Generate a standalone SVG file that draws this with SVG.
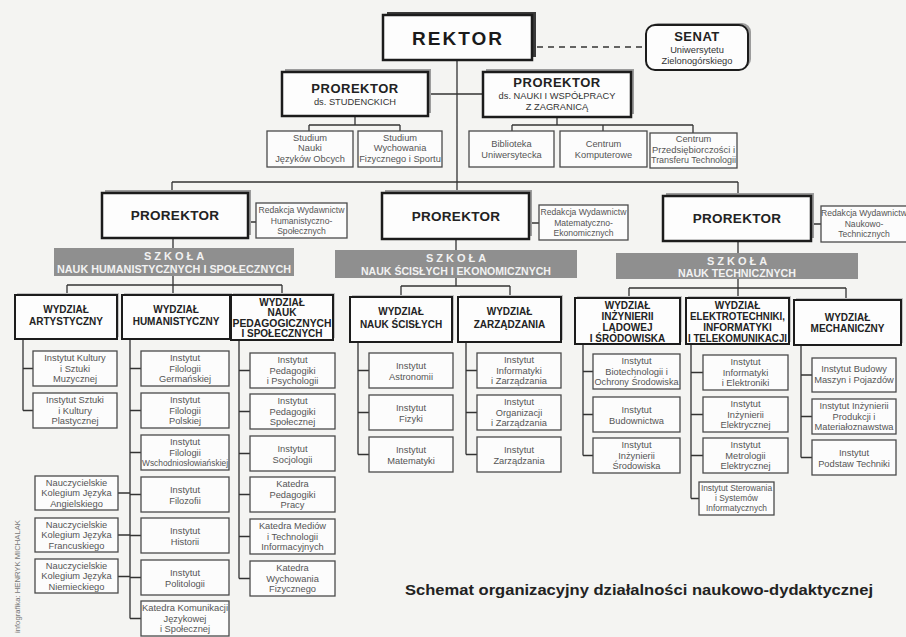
<svg xmlns="http://www.w3.org/2000/svg" width="906" height="637" viewBox="0 0 906 637">
<style>
text{font-family:"Liberation Sans",Arial,sans-serif;text-anchor:middle}
.mb{fill:#fdfdfd;stroke:#1c1c1c;stroke-width:2.5}
.wb{fill:#fdfdfd;stroke:#1c1c1c;stroke-width:2}
.sb{fill:#fcfcfc;stroke:#4a4a4a;stroke-width:1.3}
.sh{fill:#9c9c9c}
.shl{fill:#c2c2c2}
.band{fill:#8f8f8f}
.ln{fill:none;stroke:#333;stroke-width:1.3}
.dash{fill:none;stroke:#333;stroke-width:1.3;stroke-dasharray:6 5}
.big{font-size:19px;font-weight:bold;letter-spacing:2px;fill:#1a1a1a}
.pr{font-size:13px;font-weight:bold;letter-spacing:.5px;fill:#222}
.pr2{font-size:13.5px;font-weight:bold;letter-spacing:.3px;fill:#222}
.sub{font-size:9.3px;fill:#333}
.wy{font-size:10px;font-weight:bold;fill:#222}
.ts{font-size:9.3px;fill:#555}
.tr{font-size:8.6px;fill:#555}
.tq{font-size:8.4px;fill:#555}
.bd1{font-size:11px;font-weight:bold;letter-spacing:3px;fill:#f2f2f2}
.bd2{font-size:10.5px;font-weight:bold;fill:#f2f2f2}
.ft{font-size:15px;font-weight:bold;fill:#222;text-anchor:start}
.cr{font-size:7.5px;fill:#777;text-anchor:start}
</style>
<rect x="0" y="0" width="906" height="637" fill="#f4f4f2"/>

<g id="connectors">
<path class="dash" d="M537 47 H646"/>
<path class="ln" d="M457 60 V182 M428 94 H483 M355 116 V125 M309 125 H400 M309 125 V131 M400 125 V131 M557 117 V125 M512 125 H693 M512 125 V131 M603 125 V131 M693 125 V133"/>
<path class="ln" d="M172 182 H738 M172 182 V193 M457 182 V193 M738 182 V196 M248 222 H256 M529 223 H539 M811 224 H821 M173 238 V248 M456 239 V250 M738 241 V253"/>
<path class="ln" d="M173 276 V285 M67 285 H282 M67 285 V295 M173 285 V295 M282 285 V295 M456 278 V286 M401 286 H510 M401 286 V297 M510 286 V297 M738 279 V288 M629 288 H846 M629 288 V298 M738 288 V298 M846 288 V300"/>
<path class="ln" d="M23 339 V410.5 M23 368.5 H33 M23 410.5 H33"/>
<path class="ln" d="M130 339 V618.5 M130 368.5 H141 M130 410.5 H141 M130 452.5 H141 M130 494.5 H141 M130 535.5 H141 M130 577.5 H141 M130 618.5 H141 M118 493 H130 M118 535 H130 M118 576.5 H130"/>
<path class="ln" d="M239 340 V578.5 M239 370.5 H250 M239 411.5 H250 M239 453.5 H250 M239 494.5 H250 M239 536.5 H250 M239 578.5 H250"/>
<path class="ln" d="M358 342 V454.5 M358 370.5 H369 M358 412.5 H369 M358 454.5 H369 M466 342 V454.5 M466 370.5 H477 M466 412.5 H477 M466 454.5 H477"/>
<path class="ln" d="M583 343 V455.5 M583 371.5 H593 M583 414.5 H593 M583 455.5 H593 M691 343 V498.5 M691 372.5 H703 M691 414.5 H703 M691 455.5 H703 M691 498.5 H699 M801 345 V457.5 M801 375 H812 M801 416.5 H812 M801 457.5 H812"/>
</g>

<g id="rektor">
<rect x="387" y="12" width="149" height="45" fill="#3a3a3a"/>
<rect class="mb" x="383" y="15" width="149" height="45"/>
<text class="big" x="458" y="45">REKTOR</text>
</g>
<g id="senat">
<rect class="sh" x="649" y="23" width="102" height="45" rx="9"/>
<rect class="wb" x="646" y="25" width="102" height="45" rx="9"/>
<text class="pr" x="697" y="41">SENAT</text>
<text class="sub" x="697" y="53">Uniwersytetu</text>
<text class="sub" x="697" y="64">Zielonogórskiego</text>
</g>
<g id="prorektor-studenckich">
<rect class="sh" x="285" y="69" width="146" height="44"/>
<rect class="mb" x="282" y="72" width="146" height="44"/>
<text class="pr" x="355" y="93">PROREKTOR</text>
<text class="sub" x="355" y="105">ds. STUDENCKICH</text>
</g>
<g id="prorektor-nauki">
<rect class="sh" x="486" y="69" width="148" height="45"/>
<rect class="mb" x="483" y="72" width="148" height="45"/>
<text class="pr" x="557" y="87">PROREKTOR</text>
<text class="sub" x="557" y="99">ds. NAUKI I WSPÓŁPRACY</text>
<text class="sub" x="557" y="110">Z ZAGRANICĄ</text>
</g>
<g id="studium-jezykow"><rect class="sb" x="267" y="131" width="86" height="36"/>
<text class="ts" x="310" y="140.5">Studium</text><text class="ts" x="310" y="151">Nauki</text><text class="ts" x="310" y="161.5">Języków Obcych</text></g>
<g id="studium-wf"><rect class="sb" x="358" y="131" width="84" height="36"/>
<text class="ts" x="400" y="140.5">Studium</text><text class="ts" x="400" y="151">Wychowania</text><text class="ts" x="400" y="161.5">Fizycznego i Sportu</text></g>
<g id="biblioteka"><rect class="sb" x="469" y="131" width="85" height="36"/>
<text class="ts" x="511.5" y="146.5">Biblioteka</text><text class="ts" x="511.5" y="157.5">Uniwersytecka</text></g>
<g id="centrum-komputerowe"><rect class="sb" x="560" y="131" width="87" height="36"/>
<text class="ts" x="603.5" y="146.5">Centrum</text><text class="ts" x="603.5" y="157.5">Komputerowe</text></g>
<g id="centrum-przedsiebiorczosci"><rect class="sb" x="650" y="133" width="87" height="35"/>
<text class="ts" x="693.5" y="142">Centrum</text><text class="ts" x="693.5" y="152.5" textLength="83" lengthAdjust="spacingAndGlyphs">Przedsiębiorczości i</text><text class="ts" x="693.5" y="163" textLength="85" lengthAdjust="spacingAndGlyphs">Transferu Technologii</text></g>

<g id="prorektor-1">
<rect class="sh" x="105" y="190" width="146" height="45"/>
<rect class="mb" x="102" y="193" width="146" height="45"/>
<text class="pr2" x="175" y="220">PROREKTOR</text>
</g>
<g id="redakcja-1"><rect class="sb" x="256" y="203" width="91" height="35"/>
<text class="tr" x="301.5" y="213">Redakcja Wydawnictw</text><text class="tr" x="301.5" y="223.5">Humanistyczno-</text><text class="tr" x="301.5" y="234">Społecznych</text></g>
<g id="szkola-1"><rect class="band" x="54" y="248" width="240" height="28"/>
<text class="bd1" x="175.5" y="260">SZKOŁA</text><text class="bd2" x="174" y="272.5" textLength="234" lengthAdjust="spacingAndGlyphs">NAUK HUMANISTYCZNYCH I SPOŁECZNYCH</text></g>

<g id="prorektor-2">
<rect class="sh" x="385" y="190" width="147" height="46"/>
<rect class="mb" x="382" y="193" width="147" height="46"/>
<text class="pr2" x="456" y="221">PROREKTOR</text>
</g>
<g id="redakcja-2"><rect class="sb" x="539" y="205" width="89" height="35"/>
<text class="tr" x="583.5" y="215">Redakcja Wydawnictw</text><text class="tr" x="583.5" y="225.5">Matematyczno-</text><text class="tr" x="583.5" y="236">Ekonomicznych</text></g>
<g id="szkola-2"><rect class="band" x="335" y="250" width="242" height="28"/>
<text class="bd1" x="457.5" y="262">SZKOŁA</text><text class="bd2" x="456" y="274.5" textLength="190" lengthAdjust="spacingAndGlyphs">NAUK ŚCISŁYCH I EKONOMICZNYCH</text></g>

<g id="prorektor-3">
<rect class="sh" x="666" y="193" width="148" height="45"/>
<rect class="mb" x="663" y="196" width="148" height="45"/>
<text class="pr2" x="737" y="223">PROREKTOR</text>
</g>
<g id="redakcja-3"><rect class="sb" x="821" y="206" width="88" height="36"/>
<text class="tr" x="864" y="216">Redakcja Wydawnictw</text><text class="tr" x="864" y="226.5">Naukowo-</text><text class="tr" x="864" y="237">Technicznych</text></g>
<g id="szkola-3"><rect class="band" x="616" y="253" width="242" height="26"/>
<text class="bd1" x="738.5" y="265">SZKOŁA</text><text class="bd2" x="737" y="276.5" textLength="118" lengthAdjust="spacingAndGlyphs">NAUK TECHNICZNYCH</text></g>

<g id="wydzial-artystyczny"><rect class="shl" x="17" y="293" width="102" height="44"/><rect class="wb" x="15" y="295" width="102" height="44"/>
<text class="wy" x="66" y="313">WYDZIAŁ</text><text class="wy" x="66" y="325">ARTYSTYCZNY</text></g>
<g id="wydzial-humanistyczny"><rect class="shl" x="124" y="293" width="108" height="44"/><rect class="wb" x="122" y="295" width="108" height="44"/>
<text class="wy" x="176" y="313">WYDZIAŁ</text><text class="wy" x="176" y="325">HUMANISTYCZNY</text></g>
<g id="wydzial-pedagogiczny"><rect class="shl" x="233" y="293" width="102" height="45"/><rect class="wb" x="231" y="295" width="102" height="45"/>
<text class="wy" x="282" y="305.5">WYDZIAŁ</text><text class="wy" x="282" y="316">NAUK</text><text class="wy" x="282" y="326.5" textLength="99" lengthAdjust="spacingAndGlyphs">PEDAGOGICZNYCH</text><text class="wy" x="282" y="337">I SPOŁECZNYCH</text></g>
<g id="wydzial-scislych"><rect class="shl" x="352" y="295" width="102" height="45"/><rect class="wb" x="350" y="297" width="102" height="45"/>
<text class="wy" x="401" y="315">WYDZIAŁ</text><text class="wy" x="401" y="328">NAUK ŚCISŁYCH</text></g>
<g id="wydzial-zarzadzania"><rect class="shl" x="460" y="295" width="103" height="45"/><rect class="wb" x="458" y="297" width="103" height="45"/>
<text class="wy" x="509.5" y="315">WYDZIAŁ</text><text class="wy" x="509.5" y="328">ZARZĄDZANIA</text></g>
<g id="wydzial-inzynierii"><rect class="shl" x="577" y="296" width="105" height="46"/><rect class="wb" x="575" y="298" width="105" height="46"/>
<text class="wy" x="627.5" y="308.5">WYDZIAŁ</text><text class="wy" x="627.5" y="319.5">INŻYNIERII</text><text class="wy" x="627.5" y="330.5">LĄDOWEJ</text><text class="wy" x="627.5" y="341.5">I ŚRODOWISKA</text></g>
<g id="wydzial-elektrotechniki"><rect class="shl" x="688" y="296" width="103" height="46"/><rect class="wb" x="686" y="298" width="103" height="46"/>
<text class="wy" x="737.5" y="308.5">WYDZIAŁ</text><text class="wy" x="737.5" y="319.5" textLength="95" lengthAdjust="spacingAndGlyphs">ELEKTROTECHNIKI,</text><text class="wy" x="737.5" y="330.5">INFORMATYKI</text><text class="wy" x="737.5" y="341.5" textLength="99" lengthAdjust="spacingAndGlyphs">I TELEKOMUNIKACJI</text></g>
<g id="wydzial-mechaniczny"><rect class="shl" x="796" y="298" width="107" height="45"/><rect class="wb" x="794" y="300" width="107" height="45"/>
<text class="wy" x="847.5" y="321">WYDZIAŁ</text><text class="wy" x="847.5" y="332">MECHANICZNY</text></g>

<g id="i-kultury-muzycznej"><rect class="sb" x="33" y="351" width="84" height="35"/>
<text class="ts" x="75" y="361">Instytut Kultury</text><text class="ts" x="75" y="371.5">i Sztuki</text><text class="ts" x="75" y="382">Muzycznej</text></g>
<g id="i-sztuki-plastycznej"><rect class="sb" x="33" y="393" width="84" height="35"/>
<text class="ts" x="75" y="403">Instytut Sztuki</text><text class="ts" x="75" y="413.5">i Kultury</text><text class="ts" x="75" y="424">Plastycznej</text></g>

<g id="i-germanskiej"><rect class="sb" x="141" y="351" width="88" height="35"/>
<text class="ts" x="185" y="361">Instytut</text><text class="ts" x="185" y="371.5">Filologii</text><text class="ts" x="185" y="382">Germańskiej</text></g>
<g id="i-polskiej"><rect class="sb" x="141" y="393" width="88" height="35"/>
<text class="ts" x="185" y="403">Instytut</text><text class="ts" x="185" y="413.5">Filologii</text><text class="ts" x="185" y="424">Polskiej</text></g>
<g id="i-wschodnioslowianskiej"><rect class="sb" x="141" y="435" width="88" height="35"/>
<text class="ts" x="185" y="445">Instytut</text><text class="ts" x="185" y="455.5">Filologii</text><text class="ts" x="185" y="466" textLength="86" lengthAdjust="spacingAndGlyphs">Wschodniosłowiańskiej</text></g>
<g id="i-filozofii"><rect class="sb" x="141" y="477" width="88" height="35"/>
<text class="ts" x="185" y="493">Instytut</text><text class="ts" x="185" y="504">Filozofii</text></g>
<g id="i-historii"><rect class="sb" x="141" y="518" width="88" height="35"/>
<text class="ts" x="185" y="534">Instytut</text><text class="ts" x="185" y="545">Historii</text></g>
<g id="i-politologii"><rect class="sb" x="141" y="560" width="88" height="35"/>
<text class="ts" x="185" y="576">Instytut</text><text class="ts" x="185" y="587">Politologii</text></g>
<g id="k-komunikacji"><rect class="sb" x="141" y="601" width="88" height="35"/>
<text class="ts" x="185" y="611" textLength="86" lengthAdjust="spacingAndGlyphs">Katedra Komunikacji</text><text class="ts" x="185" y="621.5">Językowej</text><text class="ts" x="185" y="632">i Społecznej</text></g>

<g id="nkj-angielskiego"><rect class="sb" x="35" y="476" width="83" height="34"/>
<text class="ts" x="76.5" y="485.5">Nauczycielskie</text><text class="ts" x="76.5" y="496">Kolegium Języka</text><text class="ts" x="76.5" y="506.5">Angielskiego</text></g>
<g id="nkj-francuskiego"><rect class="sb" x="35" y="518" width="83" height="34"/>
<text class="ts" x="76.5" y="527.5">Nauczycielskie</text><text class="ts" x="76.5" y="538">Kolegium Języka</text><text class="ts" x="76.5" y="548.5">Francuskiego</text></g>
<g id="nkj-niemieckiego"><rect class="sb" x="35" y="559" width="83" height="34"/>
<text class="ts" x="76.5" y="568.5">Nauczycielskie</text><text class="ts" x="76.5" y="579">Kolegium Języka</text><text class="ts" x="76.5" y="589.5">Niemieckiego</text></g>

<g id="i-pedagogiki-psychologii"><rect class="sb" x="250" y="353" width="85" height="35"/>
<text class="ts" x="292.5" y="363">Instytut</text><text class="ts" x="292.5" y="373.5">Pedagogiki</text><text class="ts" x="292.5" y="384">i Psychologii</text></g>
<g id="i-pedagogiki-spolecznej"><rect class="sb" x="250" y="394" width="85" height="35"/>
<text class="ts" x="292.5" y="404">Instytut</text><text class="ts" x="292.5" y="414.5">Pedagogiki</text><text class="ts" x="292.5" y="425">Społecznej</text></g>
<g id="i-socjologii"><rect class="sb" x="250" y="436" width="85" height="35"/>
<text class="ts" x="292.5" y="452">Instytut</text><text class="ts" x="292.5" y="463">Socjologii</text></g>
<g id="k-pedagogiki-pracy"><rect class="sb" x="250" y="477" width="85" height="35"/>
<text class="ts" x="292.5" y="487">Katedra</text><text class="ts" x="292.5" y="497.5">Pedagogiki</text><text class="ts" x="292.5" y="508">Pracy</text></g>
<g id="k-mediow"><rect class="sb" x="250" y="519" width="85" height="35"/>
<text class="ts" x="292.5" y="529">Katedra Mediów</text><text class="ts" x="292.5" y="539.5">i Technologii</text><text class="ts" x="292.5" y="550">Informacyjnych</text></g>
<g id="k-wychowania"><rect class="sb" x="250" y="561" width="85" height="35"/>
<text class="ts" x="292.5" y="571">Katedra</text><text class="ts" x="292.5" y="581.5">Wychowania</text><text class="ts" x="292.5" y="592">Fizycznego</text></g>

<g id="i-astronomii"><rect class="sb" x="369" y="353" width="84" height="35"/>
<text class="ts" x="411" y="369">Instytut</text><text class="ts" x="411" y="380">Astronomii</text></g>
<g id="i-fizyki"><rect class="sb" x="369" y="395" width="84" height="35"/>
<text class="ts" x="411" y="411">Instytut</text><text class="ts" x="411" y="422">Fizyki</text></g>
<g id="i-matematyki"><rect class="sb" x="369" y="437" width="84" height="35"/>
<text class="ts" x="411" y="453">Instytut</text><text class="ts" x="411" y="464">Matematyki</text></g>

<g id="i-informatyki-zarzadzania"><rect class="sb" x="477" y="353" width="84" height="35"/>
<text class="ts" x="519" y="363">Instytut</text><text class="ts" x="519" y="373.5">Informatyki</text><text class="ts" x="519" y="384">i Zarządzania</text></g>
<g id="i-organizacji"><rect class="sb" x="477" y="395" width="84" height="35"/>
<text class="ts" x="519" y="405">Instytut</text><text class="ts" x="519" y="415.5">Organizacji</text><text class="ts" x="519" y="426">i Zarządzania</text></g>
<g id="i-zarzadzania"><rect class="sb" x="477" y="437" width="84" height="35"/>
<text class="ts" x="519" y="453">Instytut</text><text class="ts" x="519" y="464">Zarządzania</text></g>

<g id="i-biotechnologii"><rect class="sb" x="593" y="354" width="87" height="35"/>
<text class="ts" x="636.5" y="364">Instytut</text><text class="ts" x="636.5" y="374.5">Biotechnologii i</text><text class="ts" x="636.5" y="385" textLength="84" lengthAdjust="spacingAndGlyphs">Ochrony Środowiska</text></g>
<g id="i-budownictwa"><rect class="sb" x="593" y="397" width="87" height="35"/>
<text class="ts" x="636.5" y="413">Instytut</text><text class="ts" x="636.5" y="424">Budownictwa</text></g>
<g id="i-inz-srodowiska"><rect class="sb" x="593" y="438" width="87" height="35"/>
<text class="ts" x="636.5" y="448">Instytut</text><text class="ts" x="636.5" y="458.5">Inżynierii</text><text class="ts" x="636.5" y="469">Środowiska</text></g>

<g id="i-informatyki-elektroniki"><rect class="sb" x="703" y="355" width="85" height="35"/>
<text class="ts" x="745.5" y="365">Instytut</text><text class="ts" x="745.5" y="375.5">Informatyki</text><text class="ts" x="745.5" y="386">i Elektroniki</text></g>
<g id="i-inz-elektrycznej"><rect class="sb" x="703" y="397" width="85" height="35"/>
<text class="ts" x="745.5" y="407">Instytut</text><text class="ts" x="745.5" y="417.5">Inżynierii</text><text class="ts" x="745.5" y="428">Elektrycznej</text></g>
<g id="i-metrologii"><rect class="sb" x="703" y="438" width="85" height="35"/>
<text class="ts" x="745.5" y="448">Instytut</text><text class="ts" x="745.5" y="458.5">Metrologii</text><text class="ts" x="745.5" y="469">Elektrycznej</text></g>
<g id="i-sterowania"><rect class="sb" x="699" y="482" width="75" height="33"/>
<text class="tq" x="736.5" y="491">Instytut Sterowania</text><text class="tq" x="736.5" y="501">i Systemów</text><text class="tq" x="736.5" y="511">Informatycznych</text></g>

<g id="i-budowy-maszyn"><rect class="sb" x="812" y="358" width="84" height="34"/>
<text class="ts" x="854" y="372">Instytut Budowy</text><text class="ts" x="854" y="383">Maszyn i Pojazdów</text></g>
<g id="i-inz-produkcji"><rect class="sb" x="812" y="399" width="84" height="35"/>
<text class="ts" x="854" y="409">Instytut Inżynierii</text><text class="ts" x="854" y="419.5">Produkcji i</text><text class="ts" x="854" y="430">Materiałoznawstwa</text></g>
<g id="i-podstaw-techniki"><rect class="sb" x="812" y="440" width="84" height="35"/>
<text class="ts" x="854" y="456">Instytut</text><text class="ts" x="854" y="467">Podstaw Techniki</text></g>

<text class="ft" x="405" y="595" textLength="468" lengthAdjust="spacingAndGlyphs">Schemat organizacyjny działalności naukowo-dydaktycznej</text>
<text class="cr" transform="translate(20 633) rotate(-90)" textLength="113" lengthAdjust="spacingAndGlyphs">infografika: HENRYK MICHALAK</text>
</svg>
